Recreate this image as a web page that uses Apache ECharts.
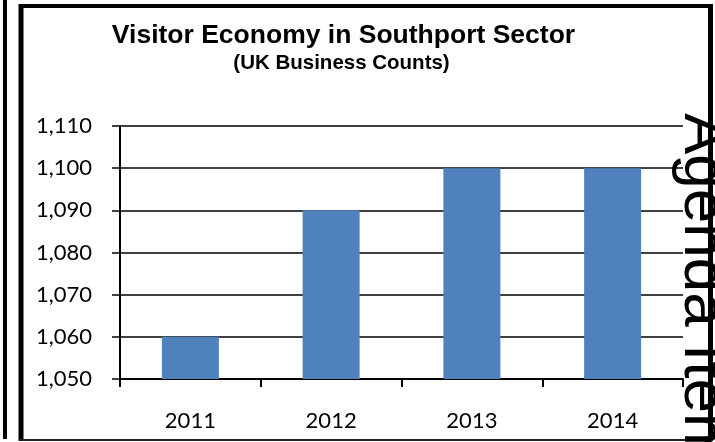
<!DOCTYPE html>
<html>
<head>
<meta charset="utf-8">
<script src="https://cdn.jsdelivr.net/npm/echarts@6/dist/echarts.min.js"></script>
<style>
  html, body { margin: 0; padding: 0; background: #fff; }
  #chart { width: 715px; height: 442px; }
</style>
</head>
<body>
<div id="chart"></div>
<script>
// Business counts for the visitor economy, by year
const years = ['2011', '2012', '2013', '2014'];
const businessCounts = [1060, 1090, 1100, 1100];

// Value axis range and step
const axisMin = 1050;
const axisMax = 1110;
const axisStep = 10;

const titleText = 'Visitor Economy in Southport Sector';
const subtitleText = '(UK Business Counts)';
const sideText = 'Agenda Item';

const labelFont = 'Lato, "Liberation Sans", sans-serif';
const titleFont = '"Liberation Sans", Arial, sans-serif';

const chart = echarts.init(document.getElementById('chart'), null, { renderer: 'canvas' });

chart.setOption({
  animation: false,
  backgroundColor: '#ffffff',
  grid: { left: 120, right: 32, top: 126, bottom: 63, containLabel: false },
  xAxis: {
    type: 'category',
    data: years,
    boundaryGap: true,
    axisLine: { show: true, lineStyle: { color: '#000', width: 2 } },
    axisTick: { show: true, length: 8, lineStyle: { color: '#000', width: 2 } },
    axisLabel: { margin: 31, fontFamily: labelFont, fontSize: 22, color: '#000' },
    splitLine: { show: false }
  },
  yAxis: {
    type: 'value',
    min: axisMin, max: axisMax, interval: axisStep,
    axisLine: { show: true, lineStyle: { color: '#000', width: 2 } },
    axisTick: { show: true, length: 8, lineStyle: { color: '#000', width: 1.5 } },
    axisLabel: {
      margin: 28, fontFamily: labelFont, fontSize: 22, color: '#000',
      padding: [5, 0, 0, 0],
      formatter: v => v.toLocaleString('en-GB')
    },
    splitLine: { show: true, lineStyle: { color: '#000', width: 1.5 } }
  },
  series: [{
    type: 'bar',
    data: businessCounts,
    barWidth: 57,
    itemStyle: { color: '#4F81BD' }
  }],
  graphic: [
    // heading and sub-heading
    {
      type: 'text', x: 343.5, y: 36, z: 110,
      style: {
        text: titleText, fill: '#000',
        font: 'bold 26.5px ' + titleFont,
        align: 'center', verticalAlign: 'middle'
      }
    },
    {
      type: 'text', x: 341.5, y: 63, z: 110,
      style: {
        text: subtitleText, fill: '#000',
        font: 'bold 20.5px ' + titleFont,
        align: 'center', verticalAlign: 'middle'
      }
    },
    // outer left rule
    { type: 'line', shape: { x1: 5, y1: 0, x2: 5, y2: 439 }, style: { stroke: '#000', lineWidth: 4 }, z: 100 },
    // chart frame
    { type: 'line', shape: { x1: 21, y1: 6, x2: 711, y2: 6 }, style: { stroke: '#000', lineWidth: 4 }, z: 100 },
    { type: 'line', shape: { x1: 21, y1: 4, x2: 21, y2: 441 }, style: { stroke: '#000', lineWidth: 5 }, z: 100 },
    { type: 'line', shape: { x1: 710.5, y1: 4, x2: 710.5, y2: 441 }, style: { stroke: '#000', lineWidth: 5 }, z: 100 },
    { type: 'line', shape: { x1: 19, y1: 440, x2: 713, y2: 440 }, style: { stroke: '#222', lineWidth: 2 }, z: 100 },
    // vertical side caption
    {
      type: 'text', x: 671, y: 113, rotation: -Math.PI / 2, z: 110,
      style: {
        text: sideText, fill: '#000',
        font: '62px "Liberation Sans", Arial, sans-serif',
        align: 'left', verticalAlign: 'bottom'
      }
    }
  ]
});
</script>
</body>
</html>
